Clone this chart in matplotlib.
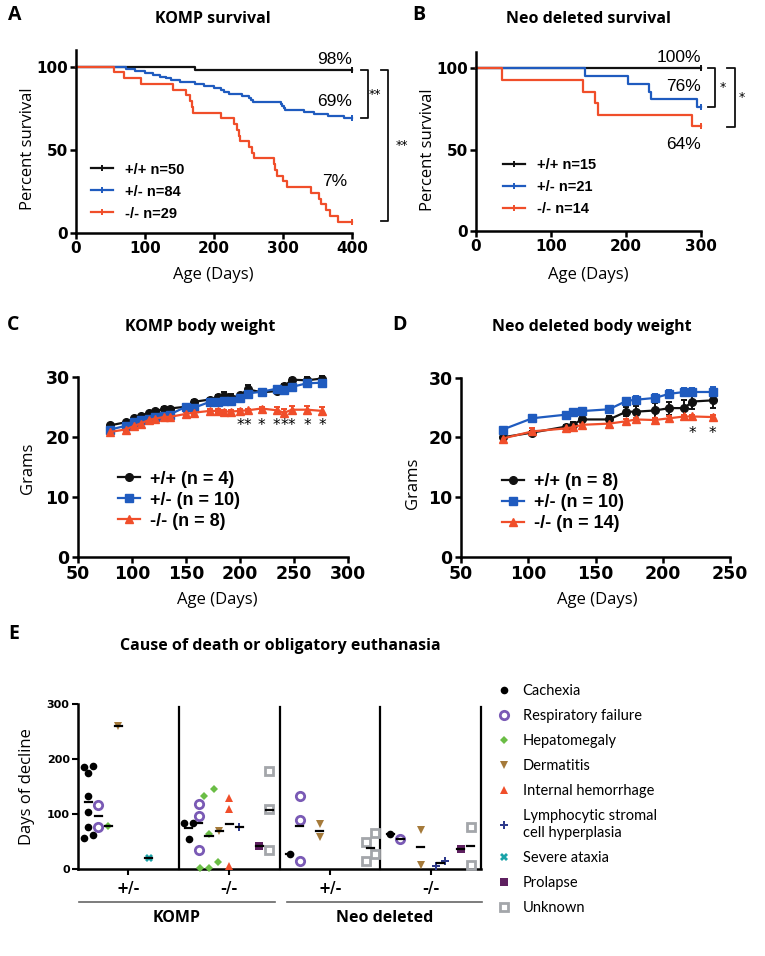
import numpy as np
import matplotlib.pyplot as plt
from matplotlib.lines import Line2D

plt.rcParams['font.family'] = ['Open Sans', 'DejaVu Sans']

W, H = 765, 956

# A: KOMP survival (days, percent surviving), step changes
komp_wt_days = [0, 173, 400]
komp_wt_pct = [100, 98, 98]
komp_het_days = [0, 72, 85, 100, 112, 122, 130, 138, 150, 172, 185, 200, 210, 215, 222,
                 240, 250, 253, 256, 297, 299, 301, 303, 330, 345, 365, 388, 400]
komp_het_pct = [100, 98.8, 97.6, 96.4, 95.2, 94.0, 92.9, 91.7, 90.5, 89.3, 88.1, 86.9, 85.7,
                84.5, 83.3, 82.1, 81.0, 79.8, 78.6, 77.4, 76.2, 75.0, 73.8, 72.6, 71.4, 70.2,
                69.0, 69.0]
komp_ko_days = [0, 55, 70, 94, 140, 160, 165, 168, 170, 210, 229, 233, 236, 238, 250, 255,
                258, 287, 289, 291, 300, 306, 340, 352, 355, 362, 368, 379, 400]
komp_ko_pct = [100, 96.6, 93.1, 89.7, 86.2, 82.8, 79.3, 75.9, 72.4, 69.0, 65.5, 62.1, 58.6,
               55.2, 51.7, 48.3, 44.8, 41.4, 37.9, 34.5, 31.0, 27.6, 24.1, 20.7, 17.2, 13.8,
               10.3, 6.9, 6.9]
komp_surv_labels = ['+/+ n=50', '+/- n=84', '-/- n=29']

# B: Neo deleted survival
neo_wt_days = [0, 300]
neo_wt_pct = [100, 100]
neo_het_days = [0, 145, 202, 231, 233, 294, 300]
neo_het_pct = [100, 95.2, 90.5, 85.7, 81.0, 76.2, 76.2]
neo_ko_days = [0, 34, 142, 159, 162, 288, 300]
neo_ko_pct = [100, 92.9, 85.7, 78.6, 71.4, 64.3, 64.3]
neo_surv_labels = ['+/+ n=15', '+/- n=21', '-/- n=14']

# C: KOMP body weight (grams, mean and SEM)
komp_bw_days = [80, 94, 102, 108, 116, 121, 130, 135, 150, 157, 172, 180, 185, 192, 200,
                207, 220, 234, 241, 248, 262, 276]
komp_bw_wt = [21.9, 22.4, 23.1, 23.5, 24.0, 24.3, 24.6, 24.7, 25.0, 25.8, 26.2, 26.6, 26.8,
              26.5, 26.9, 27.9, 27.4, 27.6, 28.4, 29.5, 29.4, 29.7]
komp_bw_wt_err = [0.3, 0.3, 0.2, 0.2, 0.2, 0.2, 0.3, 0.3, 0.3, 0.3, 0.3, 0.4, 0.6, 0.7, 0.3,
                  0.7, 0.4, 0.3, 0.4, 0.3, 0.6, 0.4]
komp_bw_het = [21.2, 21.8, 22.4, 22.8, 23.0, 23.3, 23.5, 23.7, 25.0, 24.8, 25.8, 25.8, 25.9,
               26.0, 26.5, 27.2, 27.5, 28.0, 27.8, 28.3, 28.9, 29.0]
komp_bw_het_err = [0.4, 0.4, 0.4, 0.4, 0.4, 0.4, 0.5, 0.5, 0.5, 0.5, 0.5, 0.5, 0.5, 0.5, 0.5,
                   0.5, 0.5, 0.5, 0.5, 0.5, 0.5, 0.5]
komp_bw_ko = [20.8, 21.2, 21.8, 22.2, 22.8, 23.0, 23.3, 23.3, 23.8, 24.0, 24.3, 24.3, 24.2,
              24.2, 24.3, 24.4, 24.7, 24.4, 24.0, 24.5, 24.5, 24.3]
komp_bw_ko_err = [0.3, 0.3, 0.3, 0.3, 0.3, 0.3, 0.3, 0.3, 0.3, 0.3, 0.3, 0.3, 0.3, 0.3, 0.3,
                  0.3, 0.3, 0.5, 0.6, 0.7, 0.6, 0.6]
komp_bw_sig = ['', '', '', '', '', '', '', '', '', '', '', '', '', '', '*',
               '*', '*', '*', '*', '*', '*', '*']
komp_bw_labels = ['+/+ (n = 4)', '+/- (n = 10)', '-/- (n = 8)']

# D: Neo deleted body weight
neo_bw_days = [81, 103, 128, 133, 140, 160, 173, 180, 194, 205, 216, 222, 237]
neo_bw_wt = [20.0, 20.8, 21.8, 22.1, 23.0, 23.0, 24.3, 24.3, 24.5, 24.9, 24.9, 26.0, 26.2]
neo_bw_wt_err = [0.3, 0.3, 0.3, 0.5, 0.6, 0.6, 0.8, 1.0, 1.2, 1.1, 1.4, 1.2, 1.3]
neo_bw_het = [21.3, 23.2, 23.8, 24.2, 24.4, 24.7, 26.1, 26.3, 26.6, 27.3, 27.6, 27.6, 27.6]
neo_bw_het_err = [0.4, 0.4, 0.5, 0.5, 0.5, 0.5, 0.5, 0.6, 0.6, 0.6, 0.6, 0.6, 0.8]
neo_bw_ko = [19.8, 21.0, 21.5, 21.7, 22.1, 22.3, 22.7, 23.0, 22.9, 23.2, 23.5, 23.5, 23.4]
neo_bw_ko_err = [0.3, 0.5, 0.3, 0.3, 0.3, 0.3, 0.3, 0.3, 0.3, 0.3, 0.3, 0.3, 0.3]
neo_bw_sig = ['', '', '', '', '', '', '', '', '', '', '', '*', '*']
neo_bw_labels = ['+/+ (n = 8)', '+/- (n = 10)', '-/- (n = 14)']

# E: days of decline per cause, one list per group (KOMP +/-, KOMP -/-, Neo +/-, Neo -/-)
group_labels = ['+/-', '-/-', '+/-', '-/-']
cohort_labels = ['KOMP', 'Neo deleted']
cause_names = ['Cachexia', 'Respiratory failure', 'Hepatomegaly', 'Dermatitis',
               'Internal hemorrhage', 'Lymphocytic stromal\ncell hyperplasia',
               'Severe ataxia', 'Prolapse', 'Unknown']
cachexia_days = [[188, 186, 174, 132, 104, 77, 56, 62], [83, 83, 55], [27], [64]]
respiratory_days = [[117, 76], [118, 97, 35], [133, 89, 14], [54]]
hepatomegaly_days = [[79], [145, 132, 64, 12, 2, 2], [], []]
dermatitis_days = [[260], [70], [81, 58], [71, 8]]
hemorrhage_days = [[], [130, 110, 5], [], []]
lymphocytic_days = [[], [77], [], [15, 6]]
ataxia_days = [[20], [], [], []]
prolapse_days = [[], [41], [], [36]]
unknown_days = [[], [179, 110, 35], [65, 50, 27, 14], [76, 8]]

BLACK = '#111111'
BLUE = '#1F5BBF'
RED = '#F04E2A'
TICKFONT = 'DejaVu Sans'

fig = plt.figure(figsize=(W / 100, H / 100), dpi=100)


def box(left, top, right, bottom):
    return [left / W, 1 - bottom / H, (right - left) / W, (bottom - top) / H]


def ftext(x, y, s, **kw):
    fig.text(x / W, 1 - y / H, s, **kw)


def style(ax, xticks, yticks, size):
    for s in ['top', 'right']:
        ax.spines[s].set_visible(False)
    for s in ['left', 'bottom']:
        ax.spines[s].set_linewidth(1.8)
    ax.set_xticks(xticks, labels=[str(t) for t in xticks], fontsize=size,
                  fontweight='bold', fontfamily=TICKFONT)
    ax.set_yticks(yticks, labels=[str(t) for t in yticks], fontsize=size,
                  fontweight='bold', fontfamily=TICKFONT)
    ax.tick_params(width=1.8, length=4, pad=2, colors='black')


# ---------- A / B survival ----------
def survival(ax, curves, labels, xmax, anchor):
    hs = []
    for (d, p), c in zip(curves, [BLACK, BLUE, RED]):
        ax.step(d, p, where='post', color=c, lw=1.6, clip_on=False)
        ax.plot(d[-1], p[-1], marker='|', ms=5, mew=1.4, color=c, clip_on=False)
        hs.append(Line2D([], [], color=c, lw=1.6, marker='|', ms=4, mew=1.4))
    ax.set_xlim(0, xmax)
    ax.set_ylim(0, 110)
    ax.legend(hs, labels, loc='upper left', bbox_to_anchor=anchor, frameon=False,
              borderpad=0, borderaxespad=0, handlelength=1.5, handletextpad=0.8,
              labelspacing=0.55,
              prop={'family': 'Liberation Sans', 'weight': 'bold', 'size': 10.5})


axA = fig.add_axes(box(76, 50, 352, 233))
survival(axA, [(komp_wt_days, komp_wt_pct), (komp_het_days, komp_het_pct),
               (komp_ko_days, komp_ko_pct)], komp_surv_labels, 400, (0.055, 0.385))
style(axA, [0, 100, 200, 300, 400], [0, 50, 100], 11)
for y, s in [(104, '98%'), (79, '69%')]:
    axA.text(400, y, s, ha='right', va='center', fontsize=12.5, fontfamily='Liberation Sans')
axA.text(393, 31, '7%', ha='right', va='center', fontsize=12.5, fontfamily='Liberation Sans')
for x0, x1, y0, y1, star, xs in [(413, 423, 98, 69, '**', 433), (442, 452, 98, 7, '**', 472)]:
    axA.plot([x0, x1, x1, x0], [y0, y0, y1, y1], color=BLACK, lw=1.3, clip_on=False)
    axA.text(xs, (y0 + y1) / 2, star, ha='center', va='center', fontsize=9,
             fontfamily='DejaVu Sans')

axB = fig.add_axes(box(476, 52, 701, 231))
survival(axB, [(neo_wt_days, neo_wt_pct), (neo_het_days, neo_het_pct),
               (neo_ko_days, neo_ko_pct)], neo_surv_labels, 300, (0.12, 0.41))
style(axB, [0, 100, 200, 300], [0, 50, 100], 11)
axB.text(300, 106.5, '100%', ha='right', va='center', fontsize=12.5, fontfamily='Liberation Sans')
axB.text(300, 89, '76%', ha='right', va='center', fontsize=12.5, fontfamily='Liberation Sans')
axB.text(300, 53, '64%', ha='right', va='center', fontsize=12.5, fontfamily='Liberation Sans')
for x0, x1, y0, y1, xs in [(309, 319, 100, 76, 329), (335, 345, 100, 64, 355)]:
    axB.plot([x0, x1, x1, x0], [y0, y0, y1, y1], color=BLACK, lw=1.3, clip_on=False)
    axB.text(xs, (y0 + y1) / 2, '*', ha='center', va='center', fontsize=9,
             fontfamily='DejaVu Sans')


# ---------- C / D body weight ----------
def weights(ax, days, series, errs, labels, sig, sig_y, xmax, anchor):
    hs = []
    for vals, err, c, m in zip(series, errs, [BLACK, BLUE, RED], ['o', 's', '^']):
        ax.errorbar(days, vals, yerr=err, color=c, marker=m, ms=5.5, lw=1.6,
                    capsize=2.5, elinewidth=1.4, capthick=1.4, clip_on=False)
        hs.append(Line2D([], [], color=c, marker=m, ms=5.5, lw=1.6))
    for d, s in zip(days, sig):
        if s:
            ax.text(d, sig_y, s, ha='center', va='center', fontsize=11, fontfamily='DejaVu Sans')
    ax.set_xlim(50, xmax)
    ax.set_ylim(0, 31)
    ax.spines['left'].set_bounds(0, 30)
    ax.legend(hs, labels, loc='upper left', bbox_to_anchor=anchor, frameon=False,
              borderpad=0, borderaxespad=0, handlelength=1.2, handletextpad=0.6,
              labelspacing=0.22,
              prop={'family': 'Liberation Sans', 'weight': 'bold', 'size': 13})


axC = fig.add_axes(box(78, 370.7, 348, 556.7))
weights(axC, komp_bw_days, [komp_bw_wt, komp_bw_het, komp_bw_ko],
        [komp_bw_wt_err, komp_bw_het_err, komp_bw_ko_err], komp_bw_labels, komp_bw_sig,
        21.9, 300, (0.148, 0.462))
style(axC, [50, 100, 150, 200, 250, 300], [0, 10, 20, 30], 12.5)

axD = fig.add_axes(box(461, 371.7, 730, 556.7))
weights(axD, neo_bw_days, [neo_bw_wt, neo_bw_het, neo_bw_ko],
        [neo_bw_wt_err, neo_bw_het_err, neo_bw_ko_err], neo_bw_labels, neo_bw_sig,
        20.6, 250, (0.152, 0.452))
style(axD, [50, 100, 150, 200, 250], [0, 10, 20, 30], 12.5)

# ---------- E cause of death ----------
causes = [cachexia_days, respiratory_days, hepatomegaly_days, dermatitis_days,
          hemorrhage_days, lymphocytic_days, ataxia_days, prolapse_days, unknown_days]
cause_style = [
    dict(marker='o', color='#000000', ms=5.5, mfc='#000000', mew=0, gap=11),
    dict(marker='o', color='#7A5AB5', ms=6.0, mfc='none', mew=2.0, gap=11),
    dict(marker='D', color='#6ABD45', ms=4.0, mfc='#6ABD45', mew=0, gap=14),
    dict(marker='v', color='#A57A3A', ms=6.0, mfc='#A57A3A', mew=0, gap=11),
    dict(marker='^', color='#F04E2A', ms=6.0, mfc='#F04E2A', mew=0, gap=11),
    dict(marker='P', color='#2E3A8C', ms=6.0, mfc='#2E3A8C', mew=0, gap=16),
    dict(marker='X', color='#1AA3A8', ms=6.0, mfc='#1AA3A8', mew=0, gap=11),
    dict(marker='s', color='#5E2060', ms=5.5, mfc='#5E2060', mew=0, gap=11),
    dict(marker='s', color='#A3A6AA', ms=5.5, mfc='none', mew=2.0, gap=16),
]


def swarm(vals, gap, step=0.9):
    vals = np.asarray(vals, float)
    order = np.argsort(vals)
    offs = np.zeros(len(vals))
    clusters = []
    for i in order:
        if clusters and vals[i] - vals[clusters[-1][-1]] < gap:
            clusters[-1].append(i)
        else:
            clusters.append([i])
    for c in clusters:
        for k, i in enumerate(c):
            offs[i] = (k - (len(c) - 1) / 2) * step
    return offs


axE = fig.add_axes(box(78, 704, 481, 869))
handles = []
for ci, (groups, st) in enumerate(zip(causes, cause_style)):
    st = dict(st)
    gap = st.pop('gap')
    for g, vals in enumerate(groups):
        if not vals:
            continue
        xc = g * 10 + ci + 1
        xs = xc + swarm(vals, gap)
        axE.plot(xs, vals, ls='none', mec=st['color'], clip_on=False, zorder=3, **st)
        m = np.mean(vals)
        axE.plot([xc - 0.35, xc + 0.35], [m, m], color='black', lw=1.6, zorder=5)
    handles.append(Line2D([], [], ls='none', mec=st['color'], **st))

for xv in [10, 20, 30, 40]:
    axE.plot([xv, xv], [0, 295], color='black', lw=1.6, clip_on=False)
axE.set_xlim(0, 40)
axE.set_ylim(0, 300)
for s in ['top', 'right']:
    axE.spines[s].set_visible(False)
for s in ['left', 'bottom']:
    axE.spines[s].set_linewidth(1.8)
axE.set_yticks([0, 100, 200, 300], labels=['0', '100', '200', '300'], fontsize=8,
               fontweight='bold', fontfamily=TICKFONT)
axE.set_xticks([5, 15, 25, 35], labels=group_labels, fontsize=10.5, fontweight='bold',
               fontfamily=TICKFONT)
axE.tick_params(width=1.5, length=4, pad=5)
axE.tick_params(axis='y', pad=2)

fig.legend(handles, cause_names, loc='upper left', bbox_to_anchor=(497 / W, 1 - 684 / H),
           frameon=False, borderpad=0, borderaxespad=0, handlelength=1.0,
           handletextpad=0.75, labelspacing=0.76, prop={'family': 'Lato', 'size': 10.5})

for (x0, x1), lab in zip([(79, 275), (287, 482)], cohort_labels):
    fig.add_artist(Line2D([x0 / W, x1 / W], [1 - 902 / H, 1 - 902 / H], color='#666666',
                          lw=1.2, transform=fig.transFigure))
    ftext((x0 + x1) / 2, 918, lab, ha='center', va='center', fontsize=11.5, fontweight='bold')

# ---------- labels and titles ----------
for x, y, s in [(8, 15, 'A'), (412, 15, 'B'), (7, 325, 'C'), (392, 325, 'D'), (8, 634, 'E')]:
    ftext(x, y, s, ha='left', va='center', fontsize=14, fontweight='bold')
for x, y, s in [(213, 19, 'KOMP survival'), (588, 19, 'Neo deleted survival'),
                (200, 327, 'KOMP body weight'), (592, 327, 'Neo deleted body weight'),
                (280, 646, 'Cause of death or obligatory euthanasia')]:
    ftext(x, y, s, ha='center', va='center', fontsize=11.5, fontweight='bold')
for x, y, s in [(213, 275, 'Age (Days)'), (588, 275, 'Age (Days)'),
                (217, 600, 'Age (Days)'), (597, 600, 'Age (Days)')]:
    ftext(x, y, s, ha='center', va='center', fontsize=12)
for x, y, s in [(28, 149, 'Percent survival'), (428, 150, 'Percent survival'),
                (28, 468, 'Grams'), (413, 483, 'Grams'), (27, 787, 'Days of decline')]:
    ftext(x, y, s, ha='center', va='center', fontsize=12, rotation=90)

fig.savefig('out.png', dpi=100, facecolor='white')
